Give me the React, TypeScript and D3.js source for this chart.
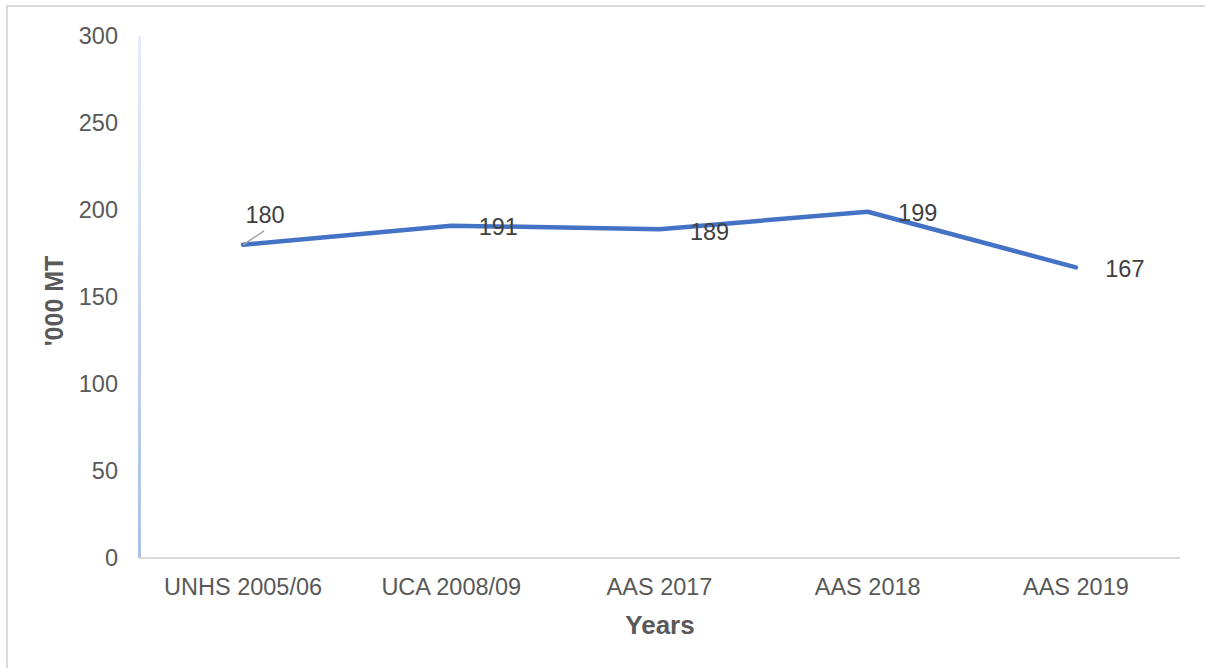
import React from "react";
import * as d3 from "d3";

const categories = ["UNHS 2005/06", "UCA 2008/09", "AAS 2017", "AAS 2018", "AAS 2019"];
const values = [180, 191, 189, 199, 167];
const yTicks = [0, 50, 100, 150, 200, 250, 300];
// label offsets relative to point (dx of text center, dy of baseline)
const labelOffsets: [number, number][] = [
  [22, -22],
  [47, 9],
  [50, 11],
  [50, 9],
  [49, 10],
];

export default function App() {
  const W = 1205, H = 668;
  const left = 139, right = 1180, top = 36, bottom = 558;
  const x = d3.scaleBand<string>().domain(categories).range([left, right]);
  const y = d3.scaleLinear().domain([0, 300]).range([bottom, top]);
  const line = d3
    .line<number>()
    .x((_, i) => (x(categories[i]) as number) + x.bandwidth() / 2)
    .y((d) => y(d));
  const font = "'Liberation Sans', Arial, sans-serif";
  const fs = 23.5;
  return (
    <svg width={W} height={H} style={{ position: "absolute", left: 0, top: 0 }} fontFamily={font}>
      <defs>
        <linearGradient id="yaxisg" x1="0" y1="0" x2="0" y2="1">
          <stop offset="0" stopColor="#e6ecf8" />
          <stop offset="1" stopColor="#a9c0e6" />
        </linearGradient>
      </defs>
      <rect x={0} y={0} width={W} height={H} fill="#fff" />
      <rect x={7} y={6} width={W + 10} height={H + 10} fill="none" stroke="#d9d9d9" strokeWidth={2} />
      {yTicks.map((t) => (
        <text key={t} x={118} y={y(t)} dy="0.35em" textAnchor="end" fontSize={fs} fill="#595959">
          {t}
        </text>
      ))}
      <rect x={138} y={top} width={3} height={bottom - top} fill="url(#yaxisg)" />
      <line x1={left} x2={right} y1={bottom} y2={bottom} stroke="#d9d9d9" strokeWidth={2} />
      {categories.map((c) => (
        <text
          key={c}
          x={(x(c) as number) + x.bandwidth() / 2}
          y={595}
          textAnchor="middle"
          fontSize={fs}
          fill="#595959"
        >
          {c}
        </text>
      ))}
      <path
        d={line(values) || ""}
        fill="none"
        stroke="#4472C4"
        strokeWidth={4.5}
        strokeLinecap="round"
        strokeLinejoin="round"
      />
      <line
        x1={(x(categories[0]) as number) + x.bandwidth() / 2}
        y1={y(values[0])}
        x2={(x(categories[0]) as number) + x.bandwidth() / 2 + 21}
        y2={y(values[0]) - 14}
        stroke="#a6a6a6"
        strokeWidth={1.5}
      />
      {values.map((v, i) => (
        <text
          key={i}
          x={(x(categories[i]) as number) + x.bandwidth() / 2 + labelOffsets[i][0]}
          y={y(v) + labelOffsets[i][1]}
          textAnchor="middle"
          fontSize={fs}
          fill="#404040"
        >
          {v}
        </text>
      ))}
      <text
        transform={`translate(63, 301) rotate(-90)`}
        textAnchor="middle"
        fontSize={25}
        fontWeight="bold"
        fill="#595959"
      >
        '000 MT
      </text>
      <text x={660} y={634} textAnchor="middle" fontSize={26} fontWeight="bold" fill="#595959">
        Years
      </text>
    </svg>
  );
}
